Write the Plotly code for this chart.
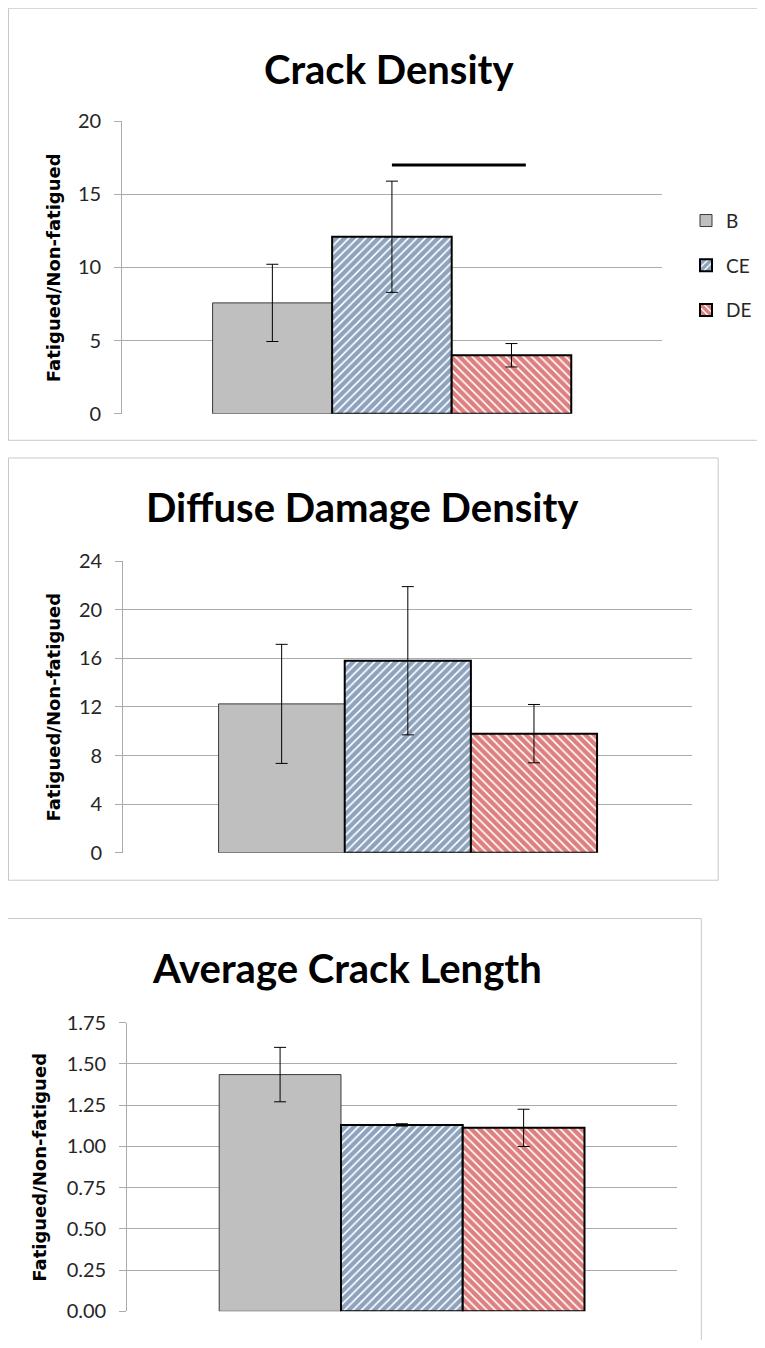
import plotly.graph_objects as go

# sivun oletusmarginaali (body 8 px) huomioidaan: kuva piirretään 8 px sisennettynä
PAGE_W, PAGE_H = 765, 1348
OFF = 8
W, H = PAGE_W - 2 * OFF, PAGE_H - 2 * OFF

# ryhmät ja arvot (luettu kuvasta)
groups = ["B", "CE", "DE"]

crack_density = [7.58, 12.1, 4.0]
crack_density_err = [2.64, 3.8, 0.8]

diffuse_damage = [12.25, 15.8, 9.8]
diffuse_damage_err = [4.9, 6.1, 2.4]

crack_length = [1.435, 1.13, 1.112]
crack_length_err = [0.165, 0.007, 0.113]

titles = ["Crack Density", "Diffuse Damage Density", "Average Crack Length"]
y_label = "Fatigued/Non-fatigued"
y_ranges = [[0, 20], [0, 24], [0, 1.75]]
y_dticks = [5, 4, 0.25]
y_formats = ["d", "d", ".2f"]

# merkitsevyysviiva CE vs DE (Crack Density)
sig_level = 17

GRID = "#ABABAB"
TICKFONT = dict(family="Lato, Liberation Sans, sans-serif", size=20, color="#262626")


def px_x(v):
    # sivun pikseli -> paperikoordinaatti
    return (v - OFF) / W


def px_y(v):
    return 1 - (v - OFF) / H


styles = [
    dict(color="#BFBFBF", line=dict(color="#3A3A3A", width=1)),
    dict(
        color="white",
        line=dict(color="black", width=2),
        pattern=dict(shape="/", fgcolor="#1B4579", bgcolor="white", size=6, solidity=0.72),
    ),
    dict(
        color="white",
        line=dict(color="black", width=2),
        pattern=dict(shape="\\", fgcolor="#BC0000", bgcolor="white", size=6, solidity=0.72),
    ),
]

datasets = [
    (crack_density, crack_density_err),
    (diffuse_damage, diffuse_damage_err),
    (crack_length, crack_length_err),
]

# paneelien sijainnit sivun pikseleinä: (plot vasen, oikea, ylä, ala)
plot_boxes = [(123, 666, 110, 408), (124, 697, 558, 855), (128, 681, 1028, 1322)]
frames = [(8.5, -5, 770, 435), (8.5, 453, 723, 883), (-5, 922, 706, 1360)]
title_pos = [(392, 57), (365, 503), (349, 972)]
ylabel_x = [54, 54, 40]

fig = go.Figure()
layout = dict(
    width=W,
    height=H,
    margin=dict(l=0, r=0, t=0, b=0),
    paper_bgcolor="white",
    plot_bgcolor="white",
    barmode="group",
    bargap=0.335,
    bargroupgap=0,
    showlegend=True,
    legend=dict(
        x=px_x(691),
        y=px_y(192),
        xanchor="left",
        yanchor="top",
        tracegroupgap=17,
        font=dict(family="Lato, Liberation Sans, sans-serif", size=19, color="#262626"),
        bgcolor="rgba(0,0,0,0)",
    ),
    shapes=[],
    annotations=[],
)

for i, (vals, errs) in enumerate(datasets):
    n = "" if i == 0 else str(i + 1)
    for j, g in enumerate(groups):
        fig.add_trace(
            go.Bar(
                x=[0],
                y=[vals[j]],
                name=g,
                marker=styles[j],
                error_y=dict(type="data", array=[errs[j]], color="black", thickness=1, width=6),
                xaxis="x" + n,
                yaxis="y" + n,
                showlegend=(i == 0),
                legendgroup=g,
                hoverinfo="skip",
            )
        )

    left, right, top, bottom = plot_boxes[i]
    layout["xaxis" + n] = dict(
        domain=[px_x(left), px_x(right)],
        anchor="y" + n,
        range=[-0.5, 0.5],
        showticklabels=False,
        showgrid=False,
        zeroline=False,
        showline=False,
        ticks="",
    )
    layout["yaxis" + n] = dict(
        domain=[px_y(bottom), px_y(top)],
        anchor="x" + n,
        range=y_ranges[i],
        dtick=y_dticks[i],
        tickformat=y_formats[i],
        showgrid=True,
        gridcolor=GRID,
        gridwidth=1,
        zeroline=False,
        showline=True,
        linecolor=GRID,
        ticks="outside",
        ticklen=7,
        tickcolor=GRID,
        ticklabelstandoff=9,
        tickfont=TICKFONT,
    )

    fx0, fy0, fx1, fy1 = frames[i]
    layout["shapes"].append(
        dict(
            type="rect",
            xref="paper",
            yref="paper",
            x0=px_x(fx0),
            x1=px_x(fx1),
            y0=px_y(fy0),
            y1=px_y(fy1),
            line=dict(color="#C8C8C8", width=1),
            fillcolor="rgba(0,0,0,0)",
            layer="below",
        )
    )

    tx, ty = title_pos[i]
    layout["annotations"].append(
        dict(
            text="<b>" + titles[i] + "</b>",
            xref="paper",
            yref="paper",
            x=px_x(tx),
            y=px_y(ty),
            xanchor="center",
            yanchor="middle",
            showarrow=False,
            font=dict(family="Lato, Liberation Sans, sans-serif", size=40, color="black"),
        )
    )
    layout["annotations"].append(
        dict(
            text="<b>" + y_label + "</b>",
            xref="paper",
            yref="paper",
            x=px_x(ylabel_x[i]),
            y=px_y((top + bottom) / 2),
            xanchor="center",
            yanchor="middle",
            textangle=-90,
            showarrow=False,
            font=dict(family="DejaVu Sans, Verdana, sans-serif", size=18, color="black"),
        )
    )

# merkitsevyysviiva CE:n keskeltä DE:n keskikohdan yli
bar_w = (1 - layout["bargap"]) / len(groups)
ce_center = -((1 - layout["bargap"]) / 2) + bar_w * 1.5
de_center = ce_center + bar_w
layout["shapes"].append(
    dict(
        type="line",
        xref="x",
        yref="y",
        x0=ce_center,
        x1=de_center + bar_w * 0.12,
        y0=sig_level,
        y1=sig_level,
        line=dict(color="black", width=3),
    )
)

fig.update_layout(**layout)
fig.write_html("out.html")
